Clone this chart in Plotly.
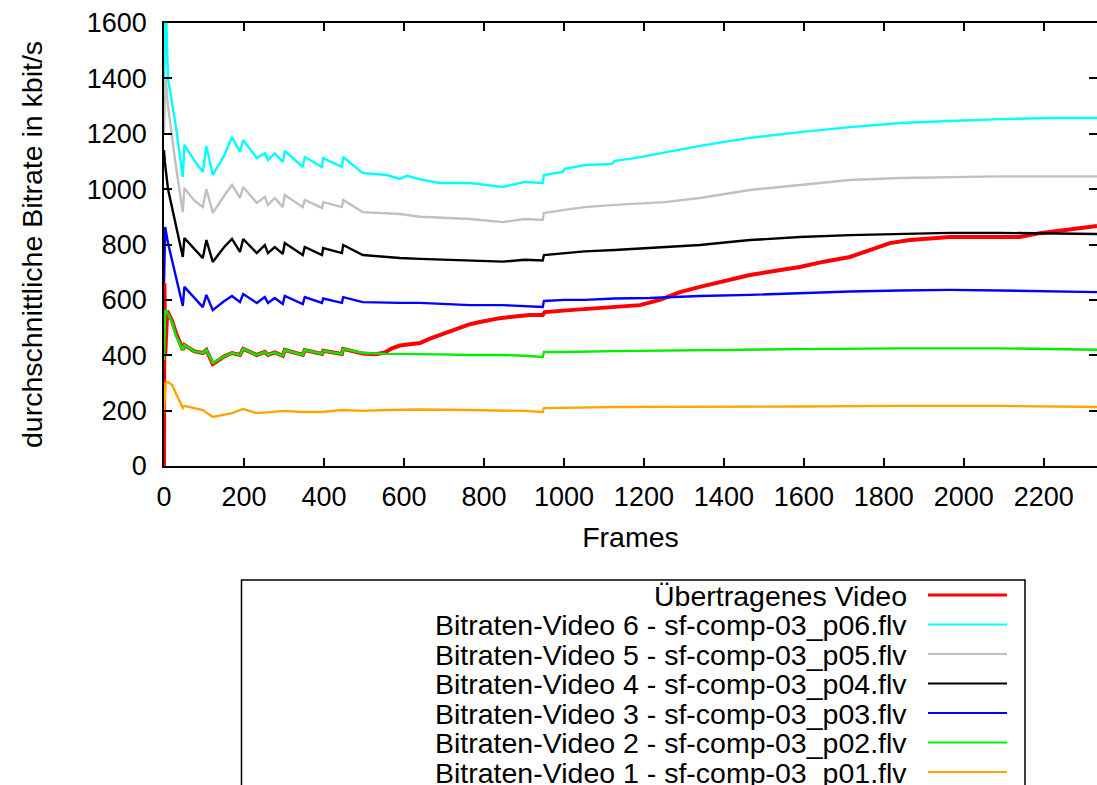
import plotly.graph_objects as go

# ---------------- data ----------------
names = [
    "Übertragenes Video",
    "Bitraten-Video 6 - sf-comp-03_p06.flv",
    "Bitraten-Video 5 - sf-comp-03_p05.flv",
    "Bitraten-Video 4 - sf-comp-03_p04.flv",
    "Bitraten-Video 3 - sf-comp-03_p03.flv",
    "Bitraten-Video 2 - sf-comp-03_p02.flv",
    "Bitraten-Video 1 - sf-comp-03_p01.flv",
]
colors = ["#ff0000", "#00ffff", "#c0c0c0", "#000000", "#0000ff", "#00ee00", "#ffa500"]
widths = [4, 2.4, 2.4, 2.4, 2.4, 2.4, 2.4]

red_x = [0, 1, 3, 8, 20, 30, 47, 51, 75, 97, 106, 122, 150, 170, 190, 198, 232, 252, 260, 277,
         297, 302, 347, 352, 395, 398, 445, 448, 497, 530, 552, 570, 590, 615, 640, 665, 690, 715,
         740, 765, 790, 815, 840, 877, 915, 947, 952, 1015, 1090, 1140, 1190, 1240, 1265, 1290,
         1340, 1390, 1465, 1530, 1590, 1650, 1715, 1765, 1815, 1865, 1915, 1965, 2040, 2090,
         2140, 2190, 2240, 2290, 2333]
red_y = [0, 660, 400, 560, 525, 480, 419, 437, 415, 408, 419, 368, 395, 408, 401, 423, 401, 412,
         401, 410, 398, 419, 401, 419, 405, 416, 405, 423, 406, 404, 410, 425, 435, 440, 444, 460,
         473, 488, 502, 512, 520, 527, 534, 540, 545, 545, 556, 563, 570, 575, 581, 600, 615, 628,
         647, 665, 690, 705, 719, 738, 755, 780, 805, 816, 822, 827, 827, 827, 827, 841, 849, 858,
         867]

v6_x = [0, 4, 10, 30, 47, 51, 75, 97, 106, 122, 150, 170, 190, 198, 232, 252, 260, 277, 297, 302,
        347, 352, 395, 398, 445, 448, 497, 557, 590, 607, 647, 690, 765, 802, 847, 902, 947, 950,
        997, 1002, 1052, 1120, 1127, 1177, 1247, 1340, 1465, 1590, 1715, 1840, 1965, 2090, 2215,
        2333]
v6_y = [1340, 1700, 1400, 1224, 1044, 1160, 1105, 1062, 1156, 1051, 1120, 1188, 1134, 1177, 1112,
        1130, 1105, 1130, 1098, 1138, 1080, 1116, 1080, 1112, 1080, 1116, 1058, 1051, 1037, 1048,
        1033, 1022, 1022, 1015, 1008, 1026, 1022, 1051, 1062, 1073, 1087, 1091, 1102, 1112, 1130,
        1156, 1185, 1206, 1224, 1239, 1246, 1253, 1257, 1257]

v5_x = [0, 4, 10, 30, 47, 51, 75, 97, 106, 122, 150, 170, 190, 198, 232, 252, 260, 277, 297, 302,
        347, 352, 395, 398, 445, 448, 497, 557, 590, 640, 690, 765, 847, 902, 947, 950, 1002, 1052,
        1127, 1252, 1340, 1465, 1590, 1715, 1840, 1965, 2090, 2215, 2333]
v5_y = [1200, 1405, 1300, 1080, 917, 1004, 960, 935, 1000, 914, 975, 1015, 968, 1008, 950, 972,
        943, 968, 935, 979, 935, 961, 932, 953, 935, 961, 917, 914, 910, 900, 896, 892, 881, 892,
        889, 914, 925, 935, 943, 953, 968, 997, 1015, 1033, 1040, 1044, 1046, 1046, 1046]

v4_x = [0, 2, 10, 30, 47, 51, 75, 97, 106, 122, 150, 170, 190, 198, 232, 252, 260, 277, 297, 302,
        347, 352, 395, 398, 445, 448, 497, 557, 590, 640, 690, 765, 847, 902, 947, 950, 1002, 1052,
        1127, 1215, 1340, 1465, 1590, 1715, 1840, 1965, 2090, 2215, 2333]
v4_y = [1141, 1100, 1000, 865, 755, 823, 785, 751, 816, 737, 790, 820, 773, 820, 769, 798, 769,
        791, 766, 805, 762, 791, 762, 787, 769, 798, 762, 755, 751, 748, 745, 742, 738, 745, 742,
        762, 770, 775, 780, 787, 798, 816, 827, 834, 838, 842, 842, 840, 838]

v3_x = [0, 3, 10, 30, 47, 51, 75, 97, 106, 122, 150, 170, 190, 198, 232, 252, 260, 277, 297, 302,
        347, 352, 395, 398, 445, 448, 497, 557, 590, 640, 690, 765, 847, 902, 947, 950, 1002, 1052,
        1127, 1215, 1340, 1465, 1590, 1715, 1840, 1965, 2090, 2215, 2333]
v3_y = [660, 863, 805, 682, 578, 647, 610, 574, 618, 563, 595, 614, 592, 621, 589, 610, 589, 607,
        585, 614, 585, 610, 589, 605, 589, 610, 592, 589, 589, 589, 585, 581, 581, 578, 574, 596,
        600, 600, 605, 607, 614, 618, 625, 630, 634, 636, 634, 630, 628]

v2_x = [0, 3, 8, 20, 30, 47, 51, 75, 97, 106, 122, 150, 170, 190, 198, 232, 252, 260, 277, 297,
        302, 347, 352, 395, 398, 445, 448, 497, 557, 590, 640, 690, 765, 847, 902, 947, 950, 1002,
        1127, 1340, 1590, 1840, 2090, 2333]
v2_y = [383, 563, 555, 520, 470, 419, 437, 415, 408, 419, 372, 395, 408, 401, 423, 401, 412, 401,
        410, 398, 419, 401, 419, 405, 416, 405, 423, 408, 405, 405, 405, 403, 401, 401, 398, 394,
        412, 412, 415, 419, 422, 425, 425, 420]

v1_x = [0, 4, 10, 20, 47, 51, 97, 122, 170, 198, 232, 260, 302, 347, 395, 445, 497, 557, 640, 765,
        902, 947, 950, 1127, 1340, 1590, 1840, 2090, 2333]
v1_y = [191, 300, 303, 293, 209, 217, 202, 177, 191, 206, 191, 195, 199, 195, 195, 202, 199, 202,
        204, 202, 199, 195, 209, 213, 213, 215, 217, 217, 213]

series_x = [red_x, v6_x, v5_x, v4_x, v3_x, v2_x, v1_x]
series_y = [red_y, v6_y, v5_y, v4_y, v3_y, v2_y, v1_y]

x_ticks = list(range(0, 2201, 200))
y_ticks = list(range(0, 1601, 200))
x_title = "Frames"
y_title = "durchschnittliche Bitrate in kbit/s"

# ---------------- layout geometry ----------------
W, H = 1097, 785
L, R, T, B = 164, 0, 23, 319
PW, PH = W - L - R, H - T - B
FONT = "Liberation Sans, Arial, Helvetica, sans-serif"
FS_TICK = 27
FS = 28.5


def px_x(px):
    return (px - L) / PW


def px_y(py):
    return (H - B - py) / PH


fig = go.Figure()
for xs, ys, n, c, w in zip(series_x, series_y, names, colors, widths):
    fig.add_trace(go.Scatter(x=xs, y=ys, mode="lines", name=n,
                             line=dict(color=c, width=w), showlegend=False))

axis_common = dict(showline=True, linecolor="black", linewidth=1.5, mirror="allticks",
                   ticks="inside", ticklen=8, tickwidth=1.5, tickcolor="black",
                   showgrid=False, zeroline=False, automargin=False,
                   tickfont=dict(family=FONT, size=FS_TICK, color="black"))

fig.update_xaxes(range=[0, 2333], tickvals=x_ticks, ticklabelstandoff=6,
                 title=dict(text=x_title, font=dict(family=FONT, size=FS, color="black"), standoff=16),
                 **axis_common)
fig.update_yaxes(range=[0, 1600], tickvals=y_ticks, ticklabelstandoff=10,
                 title=dict(text=y_title, font=dict(family=FONT, size=FS, color="black"), standoff=36),
                 **axis_common)

# ---------------- gnuplot-style key (text right, sample left) ----------------
shapes = [dict(type="rect", xref="paper", yref="paper",
               x0=px_x(241.5), x1=px_x(1025), y0=px_y(795), y1=px_y(580),
               line=dict(color="black", width=1.5), fillcolor="rgba(0,0,0,0)", layer="above")]
annotations = []
row0, dy = 595, 29.5
for i, (n, c, w) in enumerate(zip(names, colors, widths)):
    yy = row0 + i * dy
    annotations.append(dict(text=n, xref="paper", yref="paper", x=px_x(909), y=px_y(yy + 0.5),
                            xanchor="right", yanchor="middle", showarrow=False,
                            font=dict(family=FONT, size=FS, color="black")))
    shapes.append(dict(type="line", xref="paper", yref="paper",
                       x0=px_x(928), x1=px_x(1007), y0=px_y(yy), y1=px_y(yy),
                       line=dict(color=c, width=3 if i == 0 else 2)))

fig.update_layout(width=W, height=H, margin=dict(l=L, r=R, t=T, b=B, autoexpand=False),
                  plot_bgcolor="white", paper_bgcolor="white",
                  font=dict(family=FONT, size=FS, color="black"),
                  shapes=shapes, annotations=annotations, showlegend=False)

fig.write_html("out.html", config={"displayModeBar": False},
               post_script="document.body.style.margin='0';document.body.style.overflow='hidden';")
